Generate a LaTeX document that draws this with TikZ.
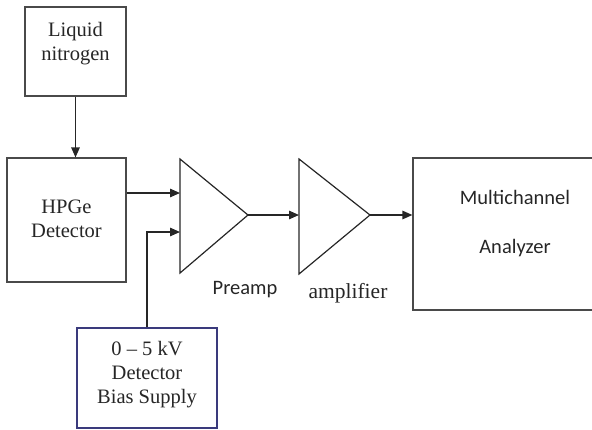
\documentclass[tikz,border=0pt]{standalone}
\usepackage{fontspec}
\setmainfont{Liberation Serif}
\newfontfamily\calfont{Carlito}
\usetikzlibrary{arrows.meta}
\definecolor{boxgray}{HTML}{4A4A4A}
\definecolor{biasblue}{HTML}{3A3A7C}
\definecolor{linegray}{HTML}{262626}
\begin{document}
\begin{tikzpicture}[x=1pt,y=-1pt,
  box/.style={draw=boxgray, line width=1.2pt, inner sep=0pt},
  serif/.style={font=\fontsize{20.5}{24}\selectfont, align=center, text=black!85},
  sans/.style={font=\calfont\fontsize{20.5}{24}\selectfont, align=center, text=black!85},
  conn/.style={line width=1.4pt, draw=linegray, -{Triangle[length=10pt,width=8.5pt]}},
  amp/.style={line width=1.2pt, draw=linegray, line join=miter}]
\useasboundingbox (0,0) rectangle (592,429);

% boxes
\node[box, minimum width=101pt, minimum height=89pt] (ln) at (75.5,51.5) {};
\node[serif] (lntext) at (75.5,44) {Liquid\\nitrogen};

\node[box, minimum width=119pt, minimum height=124pt] (hpge) at (66.5,220) {};
\node[serif] (hpgetext) at (66.5,218.5) {HPGe\\Detector};

\node[box, draw=biasblue, minimum width=140pt, minimum height=100pt] (bias) at (147,378) {};
\node[serif] (biastext) at (147,375) {0 -- 5 kV\\Detector\\Bias Supply};

\node[box, minimum width=183pt, minimum height=152pt] (mca) at (504.5,234) {};
\node[sans] (mca1) at (515,197) {Multichannel};
\node[sans] (mca2) at (515,248) {Analyzer};

% amplifiers
\coordinate (pa-t) at (180,159);
\coordinate (pa-b) at (180,273);
\coordinate (pa-o) at (248,215);
\draw[amp] (pa-t) -- (pa-o) -- (pa-b) -- cycle;
\coordinate (am-t) at (299,159);
\coordinate (am-b) at (299,274);
\coordinate (am-o) at (370,215);
\draw[amp] (am-t) -- (am-o) -- (am-b) -- cycle;

\node[sans] (pre) at (245,290) {Preamp};
\node[font=\fontsize{21.5}{24}\selectfont, text=black!85] (ampl) at (348,293) {amplifier};

% inputs
\coordinate (pa1) at (180,193);
\coordinate (pa2) at (180,232);

% connectors
\draw[conn] (ln.south) -- (ln.south |- hpge.north);
\draw[conn] (pa1 -| hpge.east) -- (pa1);
\draw[conn] (bias.north) |- (pa2);
\draw[conn] (pa-o) -- (am-t |- pa-o);
\draw[conn] (am-o) -- (mca.west |- am-o);
\end{tikzpicture}
\end{document}
